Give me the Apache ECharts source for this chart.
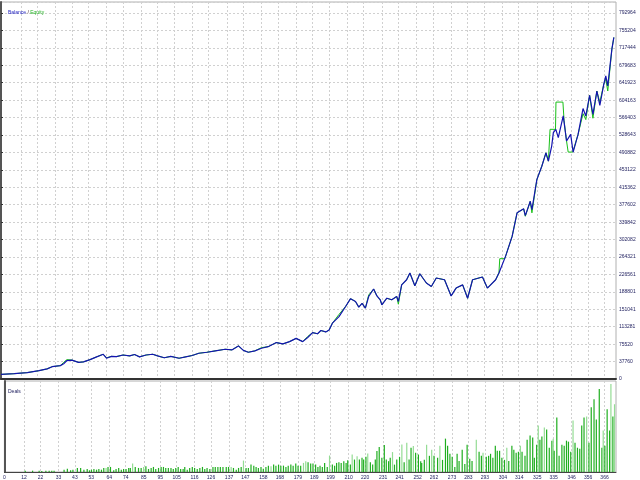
<!DOCTYPE html>
<html>
<head>
<meta charset="utf-8">
<script src="https://cdn.jsdelivr.net/npm/echarts@6/dist/echarts.min.js"></script>
<style>
    html, body { margin: 0; padding: 0; background: #fff; }
    #chart { width: 640px; height: 480px; }
</style>
</head>
<body>
<div id="chart"></div>
<script>
// deal numbers shown under the chart
const dealLabels = [0, 12, 22, 33, 43, 53, 64, 74, 85, 95, 105, 116, 126, 137, 147, 158, 168, 179,
    189, 199, 210, 220, 231, 241, 252, 262, 273, 283, 293, 304, 314, 325, 335, 346, 356, 366];
const dealMax = 373;

// balance axis: 21 steps of 37760.19
const balanceStep = 37760.19;
const balanceMax = 816860;

// [deal, balance]
const balance = [
    [0, 10000], [8, 11500], [16, 14000], [23, 18000], [28, 22000], [31, 26700], [36, 29000],
    [38, 33000], [40, 40000], [43, 41000], [47, 36000], [50, 37000], [54, 42000], [58, 48000],
    [62, 53600], [64, 45000], [67, 49000], [70, 48500], [74, 52000], [78, 50000], [81, 53000],
    [84, 48000], [88, 52000], [92, 53600], [95, 50000], [99, 46000], [103, 49000], [108, 45000],
    [112, 48000], [116, 51000], [120, 55800], [125, 58000], [130, 61000], [136, 64500],
    [140, 63000], [144, 71700], [147, 62000], [150, 58000], [154, 61000], [158, 66700],
    [162, 70000], [167, 78900], [171, 76000], [175, 81000], [179, 88000], [183, 81000],
    [186, 90000], [189, 100600], [192, 98000], [194, 105000], [197, 102000], [199, 106000],
    [201, 121000], [205, 135000], [209, 157000], [212, 174000], [215, 168000], [217, 155700],
    [219, 164000], [221, 153600], [223, 178800], [226, 195000], [228, 180000], [230, 171600],
    [231, 160800], [234, 175000], [237, 171600], [240, 179000], [241, 168000], [243, 204000],
    [246, 215000], [248, 229600], [251, 202000], [254, 228000], [258, 208000], [261, 200500],
    [264, 218800], [269, 215000], [273, 180000], [276, 197000], [280, 204000], [283, 175000],
    [286, 215000], [292, 221000], [295, 197000], [300, 215000], [302, 229600], [306, 265700],
    [310, 309000], [313, 360000], [317, 368700], [318, 354000], [321, 385000], [322, 367000],
    [325, 432000], [328, 461000], [330.5, 490000], [332, 472000], [334, 504700], [335, 533800],
    [336.5, 541000], [338, 523000], [341, 570000], [343, 515600], [345.5, 530000], [347, 491700],
    [350, 530000], [353, 586000], [354.7, 570000], [357, 614800], [359, 573500], [361.4, 624000],
    [363.2, 593000], [365.6, 638700], [366.8, 656700], [368, 635000], [370.5, 714700], [371.7, 740000]
];

// [deal, equity]
const equity = [
    [0, 10000], [8, 11500], [16, 14000], [23, 18000], [28, 22000], [31, 26700], [36, 29000],
    [38, 36000], [40, 42000], [43, 41000], [47, 36000], [50, 37000], [54, 42000], [58, 48000],
    [62, 53600], [64, 46000], [67, 49000], [70, 48500], [74, 52000], [78, 50000], [81, 53000],
    [84, 48000], [88, 52000], [92, 53600], [95, 50000], [99, 46000], [103, 49000], [108, 45000],
    [112, 48000], [116, 51000], [120, 55800], [125, 58000], [130, 61000], [136, 64500],
    [140, 63000], [144, 71700], [147, 62000], [150, 58000], [154, 61000], [158, 68000],
    [162, 70000], [167, 78900], [171, 76000], [175, 81000], [179, 88000], [183, 81000],
    [186, 92000], [189, 100600], [192, 98000], [194, 105000], [197, 102000], [199, 106000],
    [201, 121000], [205, 140000], [209, 157000], [212, 174000], [215, 168000], [217, 155700],
    [219, 164000], [221, 153600], [223, 182000], [226, 195000], [228, 180000], [230, 171600],
    [231, 160800], [234, 175000], [237, 171600], [240, 179000], [241, 162000], [243, 204000],
    [246, 215000], [248, 229600], [251, 202000], [254, 228000], [258, 208000], [261, 200500],
    [264, 218800], [269, 215000], [273, 180000], [276, 197000], [280, 204000], [283, 175000],
    [286, 215000], [292, 221000], [295, 197000], [300, 215000], [302, 229600], [302.5, 260700],
    [305.5, 260700], [306, 265700], [310, 309000], [313, 360000], [317, 368700], [318, 352600],
    [321, 385000], [322, 360000], [325, 432000], [328, 461000], [330.5, 490000], [332, 472000],
    [333, 541000], [336.3, 541000], [336.6, 600000], [340.8, 600000], [341.5, 560000],
    [343, 515600], [344, 491700], [346.8, 491700], [347, 491700], [350, 530000], [353, 575000],
    [354.7, 562000], [357, 614800], [359, 565000], [361.4, 624000], [363.2, 600000],
    [365.6, 638700], [366.8, 650000], [368, 624000], [370.5, 714700], [371.7, 740000]
];

// [deal, volume, dark(1) / light(0)]
const volumes = [
    [12.7, 1.3, 1], [17.2, 1.3, 1], [21.2, 1.3, 1], [22.8, 1, 1], [25.3, 1.3, 1], [27.3, 1.3, 1],
    [28.9, 1.3, 1], [30.3, 1.3, 1], [36.4, 2.3, 1], [38.4, 3.3, 1], [40.4, 1.7, 1], [41.8, 2.3, 1],
    [44.5, 4, 1], [46.5, 4, 1], [48.5, 2.3, 1], [50.5, 3, 1], [51.9, 1.7, 1], [53.1, 2.3, 1],
    [54.6, 3, 1], [56.2, 2.3, 1], [57.6, 3, 1], [59.2, 2.3, 1], [60.6, 4, 1], [62, 4, 0],
    [63.2, 5, 1], [64.7, 5, 1], [66.7, 1.7, 1], [68.1, 3, 1], [69.7, 4, 1], [71.3, 2.3, 1],
    [72.7, 3, 1], [74.2, 3, 1], [75.8, 4, 1], [76.8, 4, 1], [78.2, 8.3, 0], [79.8, 5, 1],
    [81.8, 4, 1], [83.4, 4, 1], [84.9, 5, 0], [86.3, 5.7, 1], [87.9, 3, 1], [89.5, 4, 1],
    [90.9, 5, 1], [92.3, 3, 1], [94, 4, 1], [95.6, 5, 1], [97, 5, 1], [98.4, 4, 1], [100, 4, 1],
    [101.6, 4, 1], [103, 3, 1], [104.5, 4, 1], [106, 5, 1], [107.5, 3, 1], [109, 3, 1],
    [110, 5, 1], [111.5, 2.3, 1], [113, 4, 1], [114.6, 5, 1], [116, 4, 1], [117.6, 3, 1],
    [119.2, 4, 1], [120.8, 5, 1], [122.2, 3, 1], [123.6, 4, 1], [125.3, 3, 1],
    [127.2, 5, 1], [128.6, 5, 1], [130.2, 5, 1], [131.7, 5, 1], [133.3, 5, 1], [135.3, 5, 1],
    [136.7, 5, 1], [138.3, 5, 0], [139.7, 4, 1], [141.4, 2.3, 1], [142.8, 4, 1], [144.4, 5, 1],
    [145.8, 11.3, 0], [147.4, 4, 1], [148.8, 4, 1], [150.4, 7.3, 1], [152.1, 6.3, 1],
    [153.5, 5, 1], [154.9, 4, 1], [156.5, 5, 1], [157.9, 3.3, 1], [159.5, 5, 1], [161, 6.3, 1],
    [162.6, 5.7, 0], [164.2, 7.3, 1], [165.6, 6.3, 1], [167.2, 7.3, 1], [168.6, 6.3, 1],
    [170.2, 6.3, 1], [171.7, 5, 1], [173.1, 6.3, 1], [174.7, 7.3, 1], [176.1, 6.3, 1],
    [177.7, 8.3, 1], [179.1, 6.3, 1], [180.7, 6.3, 1], [182.4, 9, 0], [183.8, 10.7, 0],
    [185.2, 9.7, 1], [186.8, 8.3, 1], [188.2, 8.3, 1], [189.8, 7.3, 1], [191.2, 5, 1],
    [192.5, 6.3, 1], [193.9, 5, 1], [195.3, 9, 1], [196.9, 5, 1], [198.3, 16.3, 0], [200, 7.3, 1],
    [201.4, 6.3, 1], [202.6, 9, 1], [204, 9.7, 1], [205.4, 9, 1], [207, 10.7, 1], [208.4, 9, 1],
    [209.4, 11.7, 1], [211, 7.3, 1], [212.1, 17.3, 0], [213.5, 12.3, 1], [215.1, 15.7, 0],
    [216.5, 12.3, 1], [218.1, 14, 1], [219.1, 12.3, 1], [220.5, 15, 1], [221.6, 18.3, 0],
    [223.2, 9.7, 1], [224.6, 7.3, 1], [226.2, 12.3, 1], [227.2, 20.7, 1], [228.6, 24.7, 1],
    [230.2, 14, 1], [231.7, 26.7, 1], [232.9, 12.3, 1], [234.3, 10.7, 1], [235.3, 14, 1],
    [236.7, 19.7, 0], [237.9, 7.3, 1], [239.3, 12.3, 1], [241, 15, 1], [242.4, 27.3, 0],
    [243.8, 9.7, 1], [245.4, 29, 0], [246.8, 12.3, 1], [248, 24, 1], [249.4, 25.7, 0],
    [250.8, 19, 1], [252.5, 17.3, 1], [253.9, 10.7, 1],
    [254.5, 9, 1], [256.1, 12, 1], [257.5, 27, 0], [259.2, 16, 1], [260.6, 22, 0], [262, 16, 1],
    [264.2, 14, 1], [265.6, 26, 0], [267.2, 12, 1], [269, 33, 1], [270.3, 26, 1], [271.7, 18, 1],
    [273.1, 15, 1], [274.7, 5, 1], [276.1, 18, 1], [277.3, 11, 1], [279.2, 22, 1], [280.8, 8, 1],
    [282.2, 27, 1], [283.8, 13, 1], [285.2, 11, 1], [287.8, 32, 0], [289.5, 20, 1], [290.9, 16, 1],
    [291.9, 19, 0], [293.9, 15, 1], [295.3, 16, 1], [296.5, 18, 1], [297.9, 14, 1], [299.4, 26, 1],
    [300.6, 21, 1], [302, 21, 1], [303.4, 14, 1], [305, 12, 1], [306.4, 24, 0], [307.6, 11, 1],
    [309.5, 26, 1], [310.7, 22, 1], [312.1, 19, 1], [313.5, 20, 1], [314.7, 26, 0], [315.7, 20, 1],
    [317.5, 16, 1], [318.8, 32, 1], [320.6, 36, 1], [322.2, 34, 1], [323.2, 14, 1], [324.6, 27, 1],
    [325.6, 46, 0], [326.6, 32, 1], [327.8, 35, 1], [329.3, 44, 0], [330.7, 42, 1], [332.3, 24, 1],
    [333.9, 31, 1], [334.7, 33, 0], [335.3, 21, 1], [336.9, 54, 1], [338.3, 16, 1], [340, 27, 1],
    [341.4, 26, 1], [342.8, 31, 1], [344, 30, 1], [345.4, 20, 1], [346.8, 51, 0], [348, 29, 1],
    [349.5, 24, 1], [350.9, 23, 1], [352.1, 46, 1], [353.5, 54, 1], [355.1, 55, 0], [356.5, 29, 1],
    [357.9, 64, 1], [359.6, 72, 1], [361, 52, 1], [362.8, 82, 1], [364.4, 24, 1], [365.2, 41, 0],
    [366.2, 26, 1], [367.6, 62, 1], [369.1, 41, 1], [369.9, 87, 0], [371.1, 55, 1], [372.1, 67, 0]
];
const volumeMax = 90;

const labelFont = { fontFamily: 'Liberation Sans', fontSize: 5, color: '#1c1c5c' };
const gridDash = { color: '#d0d0d0', type: [2, 2], width: 1 };

const chart = echarts.init(document.getElementById('chart'), null, { renderer: 'canvas' });

chart.setOption({
    animation: false,
    backgroundColor: '#fff',
    title: [{
        left: 3, top: 5,
        text: '{b|Balance} {s|/} {e|Equity}',
        textStyle: {
            fontFamily: 'Liberation Sans', fontSize: 5, fontWeight: 'normal',
            rich: {
                b: { color: '#2020c0', fontSize: 5, fontWeight: 'normal' },
                s: { color: '#402020', fontSize: 5, fontWeight: 'normal' },
                e: { color: '#20b020', fontSize: 5, fontWeight: 'normal' }
            }
        }
    }, {
        left: 3, top: 384,
        text: 'Deals',
        textStyle: { fontFamily: 'Liberation Sans', fontSize: 5, color: '#1c1c5c', fontWeight: 'normal' }
    }],
    grid: [
        { left: 1, right: 24, top: 2, bottom: 101, show: true, borderColor: '#b0b0b0', borderWidth: 1 },
        { left: 1, right: 24, top: 381, bottom: 8, show: true, borderColor: '#b0b0b0', borderWidth: 1 }
    ],
    xAxis: [{
        gridIndex: 0, type: 'value', min: 0, max: dealMax,
        axisLine: { show: true, lineStyle: { color: '#333', width: 2 } },
        axisTick: { show: false, customValues: dealLabels },
        axisLabel: { show: false, customValues: dealLabels },
        splitLine: { show: true, lineStyle: gridDash }
    }, {
        gridIndex: 1, type: 'value', min: 0, max: dealMax,
        axisLine: { show: true, lineStyle: { color: '#444', width: 1 } },
        axisTick: { show: false, customValues: dealLabels },
        axisLabel: Object.assign({ customValues: dealLabels, margin: 3 }, labelFont),
        splitLine: { show: true, lineStyle: gridDash }
    }],
    yAxis: [{
        gridIndex: 0, type: 'value', position: 'right',
        min: 0, max: balanceMax, interval: balanceStep,
        axisLine: { show: true, lineStyle: { color: '#a0a0a0' } },
        axisTick: { show: true, length: 2, lineStyle: { color: '#333' } },
        axisLabel: Object.assign({
            margin: 3, showMaxLabel: false,
            formatter: v => String(Math.round(v))
        }, labelFont),
        splitLine: { show: true, lineStyle: gridDash }
    }, {
        gridIndex: 0, type: 'value', position: 'left', min: 0, max: balanceMax,
        axisLine: { show: true, lineStyle: { color: '#555', width: 2 } },
        axisTick: { show: false }, axisLabel: { show: false }, splitLine: { show: false }
    }, {
        gridIndex: 1, type: 'value', position: 'right', min: 0, max: volumeMax,
        axisLine: { show: true, lineStyle: { color: '#a0a0a0' } },
        axisTick: { show: false }, axisLabel: { show: false }, splitLine: { show: false }
    }, {
        gridIndex: 1, type: 'value', position: 'left', min: 0, max: volumeMax,
        axisLine: { show: true, lineStyle: { color: '#555', width: 2 } },
        axisTick: { show: false }, axisLabel: { show: false }, splitLine: { show: false }
    }],
    series: [{
        name: 'Equity',
        type: 'line',
        xAxisIndex: 0, yAxisIndex: 0,
        data: equity,
        symbol: 'none',
        lineStyle: { color: '#18c018', width: 1 },
        z: 2
    }, {
        name: 'Balance',
        type: 'line',
        xAxisIndex: 0, yAxisIndex: 0,
        data: balance,
        symbol: 'none',
        lineStyle: { color: '#1414b0', width: 1.2 },
        z: 3
    }, {
        name: 'Deals',
        type: 'bar',
        xAxisIndex: 1, yAxisIndex: 2,
        barWidth: 1.2,
        data: volumes.map(v => ({
            value: [v[0], v[1]],
            itemStyle: { color: v[2] ? '#1fae1f' : '#94dc94' }
        }))
    }]
});
</script>
</body>
</html>
